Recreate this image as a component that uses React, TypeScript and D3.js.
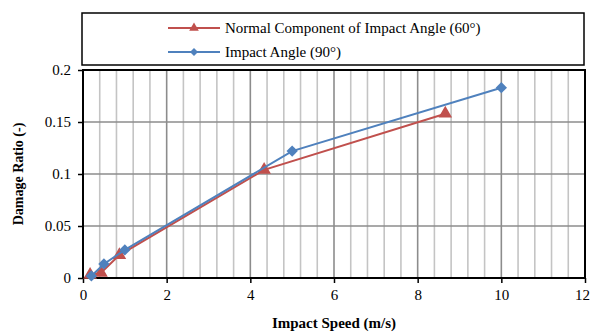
import React, { useRef, useEffect } from 'react';
import * as d3 from 'd3';

const speed90 = [0.2, 0.5, 1, 5, 10];
const ratio90 = [0.002, 0.0135, 0.027, 0.122, 0.183];
const speed60 = [0.17, 0.43, 0.87, 4.33, 8.66];
const ratio60 = [0.003, 0.005, 0.022, 0.104, 0.158];
const xTicks = [0, 2, 4, 6, 8, 10, 12];
const yTicks = [0, 0.05, 0.1, 0.15, 0.2];
const seriesNames = ['Normal Component of Impact Angle (60°)', 'Impact Angle (90°)'];

export default function App() {
	const ref = useRef<SVGSVGElement>(null);

	useEffect(() => {
		if (!ref.current) return;
		const svg = d3.select(ref.current);
		svg.selectAll('*').remove();

		const left = 83;
		const right = 585;
		const top = 70;
		const bottom = 278;
		const font = 'Liberation Serif, Times New Roman, serif';

		const x = d3.scaleLinear().domain([0, 12]).range([left, right]);
		const y = d3.scaleLinear().domain([0, 0.2]).range([bottom, top]);

		svg.append('rect').attr('width', 591).attr('height', 332).attr('fill', '#fff');

		// minor vertical grid every 0.4
		const minor = d3.range(0, 12.01, 0.4).filter((v) => Math.abs(v / 2 - Math.round(v / 2)) > 0.01);
		svg.append('g')
			.selectAll('line')
			.data(minor)
			.join('line')
			.attr('x1', (d) => x(d))
			.attr('x2', (d) => x(d))
			.attr('y1', top)
			.attr('y2', bottom)
			.attr('stroke', '#c4c4c4')
			.attr('stroke-width', 1.6);

		svg.append('g')
			.selectAll('line')
			.data(xTicks)
			.join('line')
			.attr('x1', (d) => x(d))
			.attr('x2', (d) => x(d))
			.attr('y1', top)
			.attr('y2', bottom)
			.attr('stroke', '#8c8c8c')
			.attr('stroke-width', 1.6);

		svg.append('g')
			.selectAll('line')
			.data(yTicks)
			.join('line')
			.attr('x1', left)
			.attr('x2', right)
			.attr('y1', (d) => y(d))
			.attr('y2', (d) => y(d))
			.attr('stroke', '#8c8c8c')
			.attr('stroke-width', 1.6);

		const xAxis = d3.axisBottom(x).tickValues(xTicks).tickFormat(d3.format('d')).tickSize(5).tickPadding(6);
		const gx = svg.append('g').attr('transform', `translate(0,${bottom})`).call(xAxis);
		gx.select('.domain').remove();
		gx.selectAll('line').attr('stroke', '#000').attr('stroke-width', 1.5);
		gx.selectAll('text').attr('font-family', font).attr('font-size', 15).attr('fill', '#000');
		// the last label sits at the window edge; nudge it so it stays inside
		gx.selectAll('text')
			.filter((d) => d === 12)
			.attr('dx', -3);

		const yAxis = d3.axisLeft(y).tickValues(yTicks).tickFormat((d) => String(+d)).tickSize(5).tickPadding(7);
		const gy = svg.append('g').attr('transform', `translate(${left},0)`).call(yAxis);
		gy.select('.domain').remove();
		gy.selectAll('line').attr('stroke', '#000').attr('stroke-width', 1.5);
		gy.selectAll('text').attr('font-family', font).attr('font-size', 15).attr('fill', '#000');

		svg.append('rect')
			.attr('x', left)
			.attr('y', top)
			.attr('width', right - left)
			.attr('height', bottom - top)
			.attr('fill', 'none')
			.attr('stroke', '#000')
			.attr('stroke-width', 2);

		const line = d3
			.line<[number, number]>()
			.x((d) => x(d[0]))
			.y((d) => y(d[1]));

		const red = '#c0504d';
		const blue = '#4f81bd';
		const pts60 = speed60.map((s, i) => [s, ratio60[i]] as [number, number]);
		const pts90 = speed90.map((s, i) => [s, ratio90[i]] as [number, number]);

		const tri = d3.symbol().type(d3.symbolTriangle).size(80);
		const sq = d3.symbol().type(d3.symbolSquare).size(64);
		const triSmall = d3.symbol().type(d3.symbolTriangle).size(40);
		const sqSmall = d3.symbol().type(d3.symbolSquare).size(32);

		svg.append('path').datum(pts60).attr('d', line).attr('fill', 'none').attr('stroke', red).attr('stroke-width', 2);
		svg.append('g')
			.selectAll('path')
			.data(pts60)
			.join('path')
			.attr('d', tri)
			.attr('transform', (d) => `translate(${x(d[0])},${y(d[1])})`)
			.attr('fill', red);

		svg.append('path').datum(pts90).attr('d', line).attr('fill', 'none').attr('stroke', blue).attr('stroke-width', 2);
		svg.append('g')
			.selectAll('path')
			.data(pts90)
			.join('path')
			.attr('d', sq)
			.attr('transform', (d) => `translate(${x(d[0])},${y(d[1])}) rotate(45)`)
			.attr('fill', blue);

		// legend
		svg.append('rect')
			.attr('x', 82)
			.attr('y', 13)
			.attr('width', 502)
			.attr('height', 52)
			.attr('fill', '#fff')
			.attr('stroke', '#000')
			.attr('stroke-width', 1.5);

		const leg = [
			{ name: seriesNames[0], color: red, sym: triSmall, rot: 0, yy: 28 },
			{ name: seriesNames[1], color: blue, sym: sqSmall, rot: 45, yy: 52 },
		];
		leg.forEach((l) => {
			svg.append('line')
				.attr('x1', 168)
				.attr('x2', 220)
				.attr('y1', l.yy)
				.attr('y2', l.yy)
				.attr('stroke', l.color)
				.attr('stroke-width', 2);
			svg.append('path')
				.attr('d', l.sym)
				.attr('transform', `translate(194,${l.yy}) rotate(${l.rot})`)
				.attr('fill', l.color);
			svg.append('text')
				.attr('x', 225)
				.attr('y', l.yy)
				.attr('dy', '0.35em')
				.attr('font-family', font)
				.attr('font-size', 15)
				.text(l.name);
		});

		svg.append('text')
			.attr('x', 334)
			.attr('y', 328)
			.attr('text-anchor', 'middle')
			.attr('font-family', font)
			.attr('font-weight', 'bold')
			.attr('font-size', 15)
			.text('Impact Speed (m/s)');

		svg.append('text')
			.attr('transform', 'rotate(-90)')
			.attr('x', -(top + bottom) / 2)
			.attr('y', 23)
			.attr('text-anchor', 'middle')
			.attr('font-family', font)
			.attr('font-weight', 'bold')
			.attr('font-size', 14)
			.text('Damage Ratio (-)');
	}, []);

	return <svg ref={ref} width={591} height={332} style={{ position: 'fixed', left: 0, top: 0, display: 'block' }} />;
}
